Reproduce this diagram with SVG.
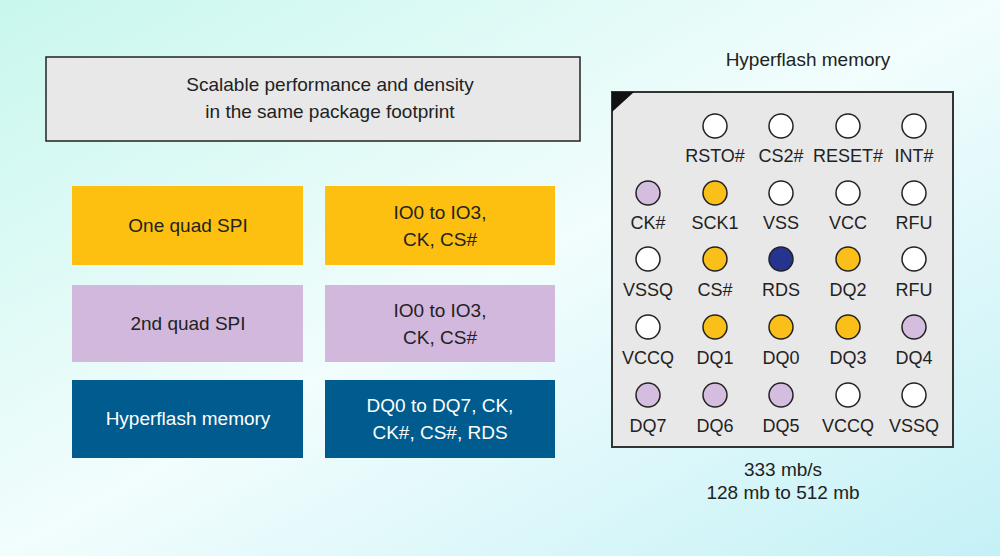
<svg xmlns="http://www.w3.org/2000/svg" width="1000" height="556" viewBox="0 0 1000 556">
<defs>
<linearGradient id="bg" x1="0" y1="0" x2="1" y2="1">
<stop offset="0" stop-color="#c8f7ee"/><stop offset="0.5" stop-color="#f2fdfd"/><stop offset="1" stop-color="#c4f1f6"/>
</linearGradient>
<style>
text{font-family:"Liberation Sans",Arial,sans-serif;font-size:19px;fill:#222;text-anchor:middle}
.pl{font-size:18px}
.w{fill:#fff}
.p{stroke:#222;stroke-width:1.5}
.o{fill:#fbbf1a}.l{fill:#d5bde0}.n{fill:#25348f}.e{fill:#fff}
</style>
</defs>
<rect width="1000" height="556" fill="url(#bg)"/>
<g id="header"><rect x="46" y="57" width="534" height="84" fill="#e8e8e8" stroke="#222" stroke-width="1.5"/>
<text x="330" y="91">Scalable performance and density</text><text x="330" y="118">in the same package footprint</text></g>
<g id="row1"><rect x="72" y="186" width="231" height="79" fill="#fdc010"/><text x="188" y="232">One quad SPI</text>
<rect x="325" y="186" width="230" height="79" fill="#fdc010"/><text x="440" y="219">IO0 to IO3,</text><text x="440" y="246">CK, CS#</text></g>
<g id="row2"><rect x="72" y="285" width="231" height="77" fill="#d2b8dc"/><text x="188" y="330">2nd quad SPI</text>
<rect x="325" y="285" width="230" height="77" fill="#d2b8dc"/><text x="440" y="317">IO0 to IO3,</text><text x="440" y="344">CK, CS#</text></g>
<g id="row3"><rect x="72" y="380" width="231" height="78" fill="#005b8e"/><text class="w" x="188" y="425">Hyperflash memory</text>
<rect x="325" y="380" width="230" height="78" fill="#005b8e"/><text class="w" x="440" y="412">DQ0 to DQ7, CK,</text><text class="w" x="440" y="439">CK#, CS#, RDS</text></g>
<g id="chip">
<text x="808" y="66">Hyperflash memory</text>
<rect x="612" y="92" width="341" height="355" fill="#e8e8e8" stroke="#333" stroke-width="2"/>
<polygon points="612,92 634,92 612,112" fill="#111"/>
<g class="p">
<circle class="e" cx="715" cy="126" r="12"/><circle class="e" cx="781" cy="126" r="12"/><circle class="e" cx="848" cy="126" r="12"/><circle class="e" cx="914" cy="126" r="12"/>
<circle class="l" cx="648" cy="193" r="12"/><circle class="o" cx="715" cy="193" r="12"/><circle class="e" cx="781" cy="193" r="12"/><circle class="e" cx="848" cy="193" r="12"/><circle class="e" cx="914" cy="193" r="12"/>
<circle class="e" cx="648" cy="259" r="12"/><circle class="o" cx="715" cy="259" r="12"/><circle class="n" cx="781" cy="259" r="12"/><circle class="o" cx="848" cy="259" r="12"/><circle class="e" cx="914" cy="259" r="12"/>
<circle class="e" cx="648" cy="327" r="12"/><circle class="o" cx="715" cy="327" r="12"/><circle class="o" cx="781" cy="327" r="12"/><circle class="o" cx="848" cy="327" r="12"/><circle class="l" cx="914" cy="327" r="12"/>
<circle class="l" cx="648" cy="395" r="12"/><circle class="l" cx="715" cy="395" r="12"/><circle class="l" cx="781" cy="395" r="12"/><circle class="e" cx="848" cy="395" r="12"/><circle class="e" cx="914" cy="395" r="12"/>
</g>
<g class="pl">
<text class="pl" x="715" y="162">RSTO#</text><text class="pl" x="781" y="162">CS2#</text><text class="pl" x="848" y="162">RESET#</text><text class="pl" x="914" y="162">INT#</text>
<text class="pl" x="648" y="229">CK#</text><text class="pl" x="715" y="229">SCK1</text><text class="pl" x="781" y="229">VSS</text><text class="pl" x="848" y="229">VCC</text><text class="pl" x="914" y="229">RFU</text>
<text class="pl" x="648" y="296">VSSQ</text><text class="pl" x="715" y="296">CS#</text><text class="pl" x="781" y="296">RDS</text><text class="pl" x="848" y="296">DQ2</text><text class="pl" x="914" y="296">RFU</text>
<text class="pl" x="648" y="364">VCCQ</text><text class="pl" x="715" y="364">DQ1</text><text class="pl" x="781" y="364">DQ0</text><text class="pl" x="848" y="364">DQ3</text><text class="pl" x="914" y="364">DQ4</text>
<text class="pl" x="648" y="432">DQ7</text><text class="pl" x="715" y="432">DQ6</text><text class="pl" x="781" y="432">DQ5</text><text class="pl" x="848" y="432">VCCQ</text><text class="pl" x="914" y="432">VSSQ</text>
</g>
<text x="783" y="476">333 mb/s</text><text x="783" y="499">128 mb to 512 mb</text>
</g>
<g id="connectors"/>
</svg>
